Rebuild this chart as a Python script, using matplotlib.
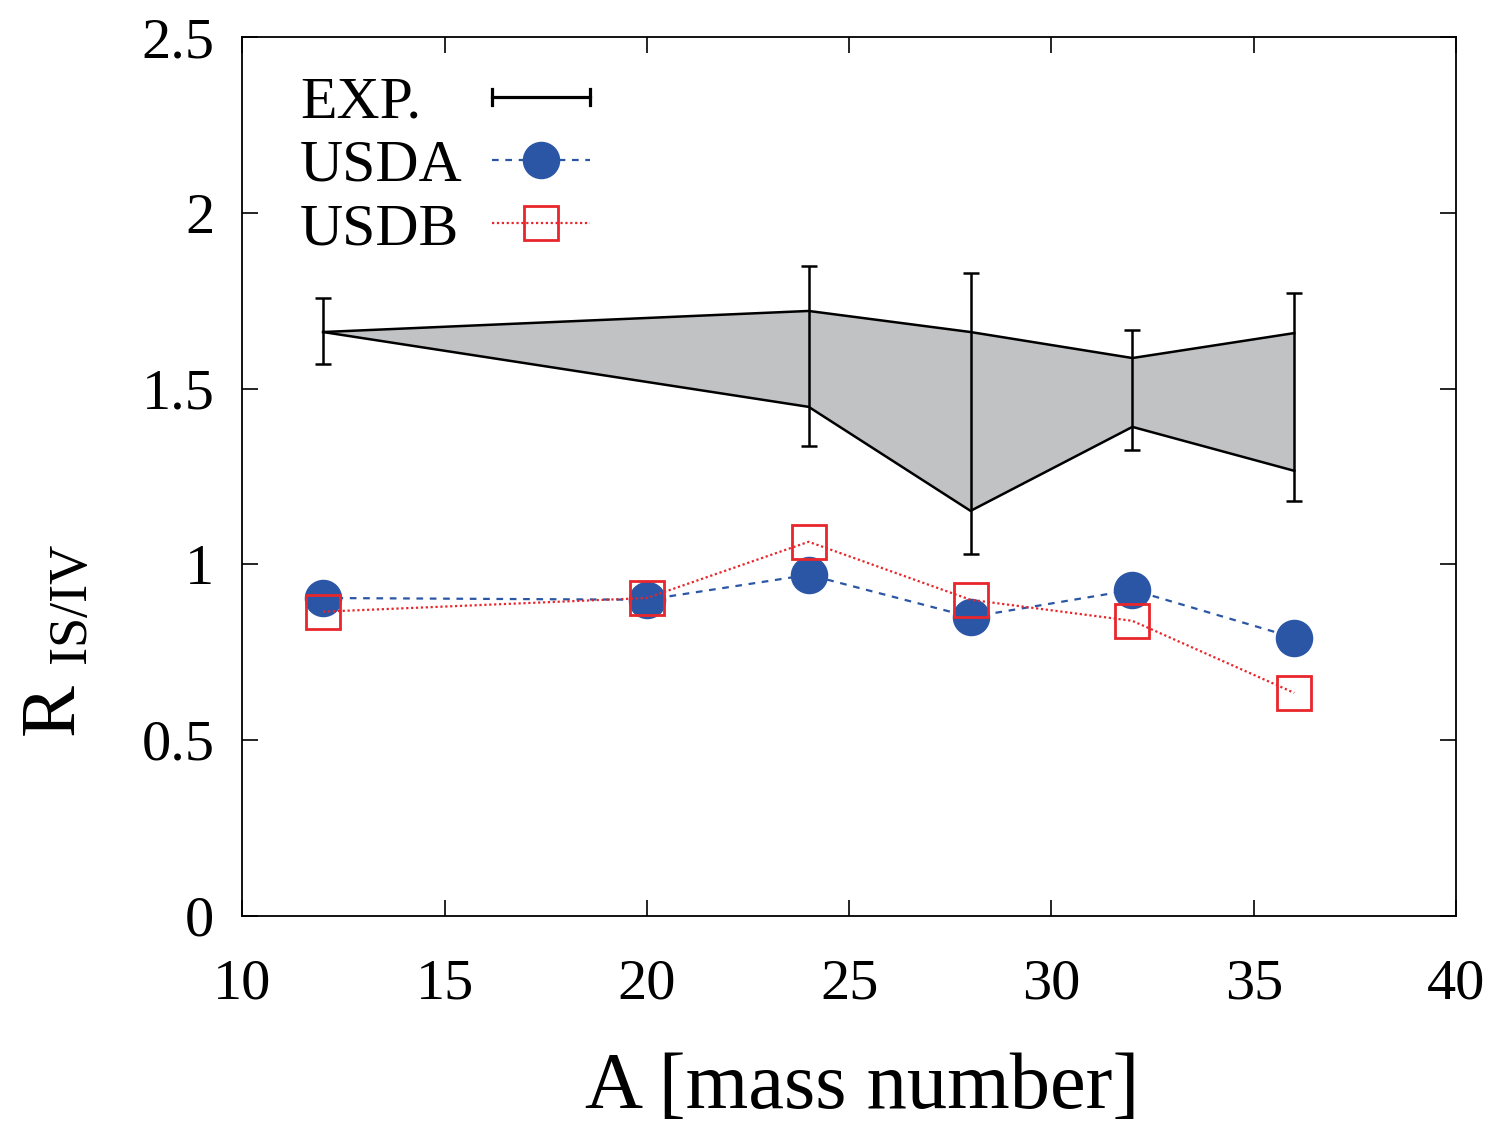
import matplotlib
matplotlib.use("Agg")
import matplotlib.pyplot as plt
from matplotlib.lines import Line2D
from matplotlib.legend_handler import HandlerBase
from matplotlib.ticker import FormatStrFormatter
import numpy as np

# experimental band (min/max) and error bars
band_x = [12, 24, 28, 32, 36]
band_hi = [1.661, 1.721, 1.661, 1.587, 1.658]
band_lo = [1.661, 1.448, 1.152, 1.391, 1.266]
err_lo = [1.570, 1.337, 1.030, 1.325, 1.180]
err_hi = [1.758, 1.849, 1.829, 1.667, 1.772]

# shell-model results
mass_a = [12, 20, 24, 28, 32, 36]
usda = [0.904, 0.899, 0.970, 0.850, 0.927, 0.791]
usdb = [0.865, 0.904, 1.064, 0.899, 0.839, 0.634]

labels = ["EXP.", "USDA", "USDB"]

blue = "#2a56a5"
red = "#e8262b"
gray = "#c1c2c4"

plt.rcParams["font.family"] = ["Liberation Serif", "DejaVu Serif"]
plt.rcParams["mathtext.fontset"] = "custom"
plt.rcParams["mathtext.rm"] = "Liberation Serif"


class ErrBarHandler(HandlerBase):
    # horizontal bar with end caps, like the gnuplot key
    def create_artists(self, legend, orig, xd, yd, w, h, fs, trans):
        y = yd + h / 2
        cap = h * 0.19
        kw = dict(color="black", lw=2.3, transform=trans)
        return [Line2D([xd, xd + w], [y, y], **kw),
                Line2D([xd, xd], [y - cap, y + cap], **kw),
                Line2D([xd + w, xd + w], [y - cap, y + cap], **kw)]


def main():
    fig = plt.figure(figsize=(14.95, 11.29), dpi=100)
    ax = fig.add_axes([0.162, 0.189, 0.812, 0.778])

    ax.fill_between(band_x, band_lo, band_hi, color=gray, lw=0, zorder=1)
    ax.plot(band_x, band_hi, color="black", lw=1.8, zorder=2)
    ax.plot(band_x, band_lo, color="black", lw=1.8, zorder=2)

    lo = np.array(err_lo)
    hi = np.array(err_hi)
    mid = (lo + hi) / 2
    ax.errorbar(band_x, mid, yerr=[mid - lo, hi - mid], fmt="none",
                ecolor="black", elinewidth=1.8, capsize=5.8, capthick=1.8, zorder=3)

    ax.plot(mass_a, usda, color=blue, ls=(0, (3, 3)), lw=1.6,
            marker="o", ms=26, mfc=blue, mec=blue, zorder=4)
    ax.plot(mass_a, usdb, color=red, ls=(0, (1, 1.2)), lw=1.6,
            marker="s", ms=25, mfc="none", mec=red, mew=2, zorder=5)

    ax.set_xlim(10, 40)
    ax.set_ylim(0, 2.5)
    ax.set_xticks([10, 15, 20, 25, 30, 35, 40])
    ax.set_yticks([0, 0.5, 1, 1.5, 2, 2.5])
    ax.yaxis.set_major_formatter(FormatStrFormatter("%g"))
    ax.tick_params(direction="in", length=11.5, width=1.2, top=True, right=True,
                   labelsize=42)
    ax.tick_params(axis="x", pad=31)
    ax.tick_params(axis="y", pad=20)
    for s in ax.spines.values():
        s.set_linewidth(1.3)

    ax.set_xlabel("A [mass number]", fontsize=58, labelpad=30)
    ax.xaxis.label.set_x(0.511)
    ax.set_ylabel(r"R $_{\rm IS/IV}$", fontsize=56)
    ax.yaxis.set_label_coords(-0.124, 0.313)

    handles = [
        Line2D([], [], color="black"),
        Line2D([], [], color=blue, ls=(0, (3, 3)), lw=1.6, marker="o", ms=26, mec=blue),
        Line2D([], [], color=red, ls=(0, (1, 1.2)), lw=1.6, marker="s", ms=25,
               mfc="none", mec=red, mew=2),
    ]
    leg = ax.legend(handles, labels, loc="upper right",
                    bbox_to_anchor=(0.3114, 0.99), frameon=False, fontsize=43,
                    markerfirst=False, handlelength=1.64, handletextpad=0.5,
                    borderpad=0, labelspacing=0.14,
                    handler_map={handles[0]: ErrBarHandler()})

    # gnuplot key has left-aligned labels: redraw them from the left edge
    fig.canvas.draw()
    r = fig.canvas.get_renderer()
    W, H = fig.canvas.get_width_height()
    boxes = [t.get_window_extent(r) for t in leg.get_texts()]
    x_left = min(b.x0 for b in boxes)
    for t, b in zip(leg.get_texts(), boxes):
        t.set_visible(False)
        fig.text(x_left / W, b.y0 / H, t.get_text(), fontsize=43,
                 ha="left", va="bottom")

    fig.savefig("out.png", dpi=100)


main()
